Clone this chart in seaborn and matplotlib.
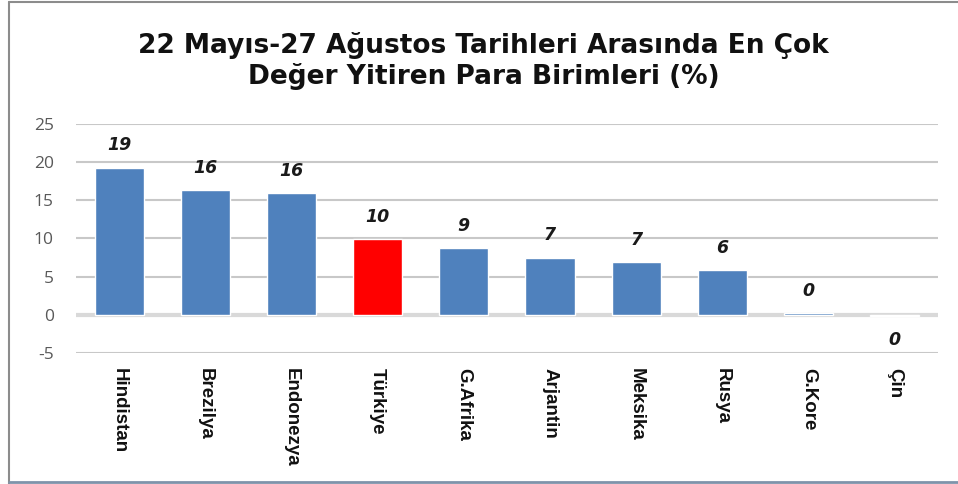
import matplotlib
matplotlib.use('Agg')
import matplotlib.pyplot as plt
import seaborn as sns
import pandas as pd
from matplotlib.lines import Line2D

# veriler
countries = ['Hindistan', 'Brezilya', 'Endonezya', 'Türkiye', 'G.Afrika',
             'Arjantin', 'Meksika', 'Rusya', 'G.Kore', 'Çin']
loss_pct = [19.3, 16.3, 16.0, 9.9, 8.8, 7.5, 6.9, 5.9, 0.2, -0.1]
value_labels = ['19', '16', '16', '10', '9', '7', '7', '6', '0', '0']
bar_colors = ['#4F81BD', '#4F81BD', '#4F81BD', '#FF0000', '#4F81BD',
              '#4F81BD', '#4F81BD', '#4F81BD', '#4F81BD', '#4F81BD']
y_ticks = [-5, 0, 5, 10, 15, 20, 25]
title = '22 Mayıs-27 Ağustos Tarihleri Arasında En Çok\nDeğer Yitiren Para Birimleri (%)'

sns.set_style('white')
plt.rcParams['font.family'] = ['DejaVu Sans']

df = pd.DataFrame({'ulke': countries, 'deger': loss_pct})

fig = plt.figure(figsize=(9.58, 4.84), dpi=100)
ax = fig.add_axes([0.0793, 0.2707, 0.8997, 0.4731])

sns.barplot(data=df, x='ulke', y='deger', hue='ulke', palette=bar_colors,
            saturation=1, legend=False, width=0.57, ax=ax, zorder=3)

ax.set_ylim(-5, 25)
ax.set_xlim(-0.5, len(countries) - 0.5)
ax.set_yticks(y_ticks)
ax.set_yticklabels([str(t) for t in y_ticks], color='#595959', fontsize=12.5,
                   family=['Open Sans'])
ax.yaxis.grid(True, color='#C8C8C8', linewidth=1.5, zorder=0)
ax.axhline(0, color='#D9D9D9', linewidth=3, zorder=1)
ax.set_xlabel('')
ax.set_ylabel('')
for s in ax.spines.values():
    s.set_visible(False)
ax.tick_params(axis='both', length=0)
ax.tick_params(axis='y', pad=16)

# x eksen etiketleri (dikey)
ax.set_xticks(range(len(countries)))
ax.set_xticklabels(countries, rotation=270, fontsize=13.5, fontweight='bold',
                   family=['Liberation Sans', 'DejaVu Sans'],
                   va='top', ha='center', color='#111111')
ax.tick_params(axis='x', pad=11)

# değer etiketleri
for i, (v, lab) in enumerate(zip(loss_pct, value_labels)):
    y = v + 2.9 if v >= 0 else v - 3.2
    ax.text(i, y, lab, ha='center', va='center', fontsize=12.5,
            fontweight='bold', fontstyle='italic', color='#1A1A1A', zorder=4)

fig.text(0.505, 0.874, title, ha='center', va='center', fontsize=19,
         fontweight='bold', color='#111111', linespacing=1.22)

# dış çerçeve
fig.lines.append(Line2D([0.009, 0.009], [0.0, 0.995], transform=fig.transFigure,
                        color='#8C8C8C', linewidth=1.5))
fig.lines.append(Line2D([0.009, 1.0], [0.995, 0.995], transform=fig.transFigure,
                        color='#8C8C8C', linewidth=1.5))
fig.lines.append(Line2D([0.009, 1.0], [0.004, 0.004], transform=fig.transFigure,
                        color='#7F93AA', linewidth=2))

fig.savefig('out.png', dpi=100)
plt.close(fig)
